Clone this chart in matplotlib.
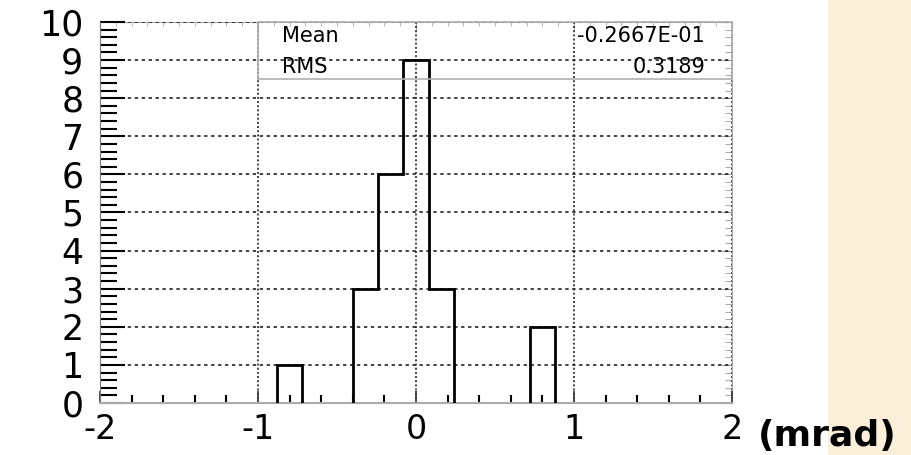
# Histogram of angular residuals (mrad), ROOT-style look with stats box.

import numpy as np
import matplotlib.pyplot as plt
from matplotlib.patches import Rectangle
from matplotlib.ticker import MultipleLocator

plt.rcParams['lines.scale_dashes'] = False
plt.rcParams['axes.unicode_minus'] = False
plt.rcParams['font.family'] = ['DejaVu Sans']

# 25 bins of 0.16 mrad from -2 to 2
bin_edges = np.linspace(-2, 2, 26)
counts = [0, 0, 0, 0, 0, 0, 0, 1, 0, 0, 3, 6, 9, 3, 0, 0, 0, 2, 0, 0, 0, 0, 0, 0, 0]
stat_names = ["Mean", "RMS"]
stat_values = ["-0.2667E-01", "0.3189"]
x_ticks = [-2, -1, 0, 1, 2]
y_ticks = list(range(0, 11))
x_unit = "(mrad)"


def main():
    fig = plt.figure(figsize=(9.12, 4.55), dpi=100)
    # beige strip on the right side of the slide
    fig.patches.append(Rectangle((0.908, 0), 0.092, 1, transform=fig.transFigure,
                                 facecolor='#fcefd9', edgecolor='none', zorder=0))

    ax = fig.add_axes([0.1096, 0.1143, 0.693, 0.8374])
    ax.patch.set_alpha(0)

    # drop empty bins so no line is drawn along zero
    vals = np.array(counts, dtype=float)
    vals[vals == 0] = np.nan
    ax.stairs(vals, bin_edges, baseline=0, edgecolor='black', lw=2, zorder=3)

    ax.set_xlim(-2, 2)
    ax.set_ylim(0, 10)
    ax.set_xticks(x_ticks)
    ax.set_yticks(y_ticks)
    ax.xaxis.set_minor_locator(MultipleLocator(0.2))
    ax.yaxis.set_minor_locator(MultipleLocator(0.2))

    ax.grid(axis='x', which='major', color='#222222', lw=1.2, linestyle=(0, (1.4, 1.6)))
    ax.grid(axis='y', which='major', color='#222222', lw=1.2, linestyle=(0, (2.4, 2.6)))

    ax.tick_params(axis='x', which='major', direction='in', length=9, width=1.2,
                   color='#333333', labelsize=24, pad=7.5)
    ax.tick_params(axis='x', which='minor', direction='in', length=6, width=1.5, color='black')
    ax.tick_params(axis='y', which='major', direction='in', length=18, width=1.5,
                   color='black', labelsize=25, pad=12)
    ax.tick_params(axis='y', which='minor', direction='in', length=12, width=1.5, color='black')

    for side in ['top', 'right']:
        ax.spines[side].set_visible(False)
    ax.spines['bottom'].set_color('#aaaaaa')
    ax.spines['bottom'].set_linewidth(1.5)
    ax.spines['left'].set_color('#777777')

    # gray ticks on the right and top frame
    right = ax.secondary_yaxis('right')
    right.set_yticks(y_ticks)
    right.yaxis.set_minor_locator(MultipleLocator(0.2))
    right.tick_params(which='both', direction='in', color='#999999', labelright=False)
    right.tick_params(which='major', length=8)
    right.tick_params(which='minor', length=5)
    right.spines['right'].set_color('#aaaaaa')

    top = ax.secondary_xaxis('top')
    top.set_xticks(x_ticks)
    top.xaxis.set_minor_locator(MultipleLocator(0.1))
    top.tick_params(which='both', direction='in', color='#aaaaaa', labeltop=False)
    top.tick_params(which='major', length=6)
    top.tick_params(which='minor', length=3)
    top.spines['top'].set_color('#aaaaaa')

    # stats box
    ax.add_patch(Rectangle((-1, 8.5), 3, 1.5, fill=False, edgecolor='#b0b0b0',
                           lw=1.2, zorder=4, clip_on=False))
    for name, val, y in zip(stat_names, stat_values, [9.62, 8.82]):
        ax.text(-0.85, y, name, ha='left', va='center', fontsize=15, zorder=5)
        ax.text(1.83, y, val, ha='right', va='center', fontsize=15, zorder=5)

    fig.text(0.831, 0.02, x_unit, fontsize=26, fontweight='bold',
             ha='left', va='baseline')

    fig.savefig("out.png", dpi=100)
    plt.close(fig)


if __name__ == "__main__":
    main()
